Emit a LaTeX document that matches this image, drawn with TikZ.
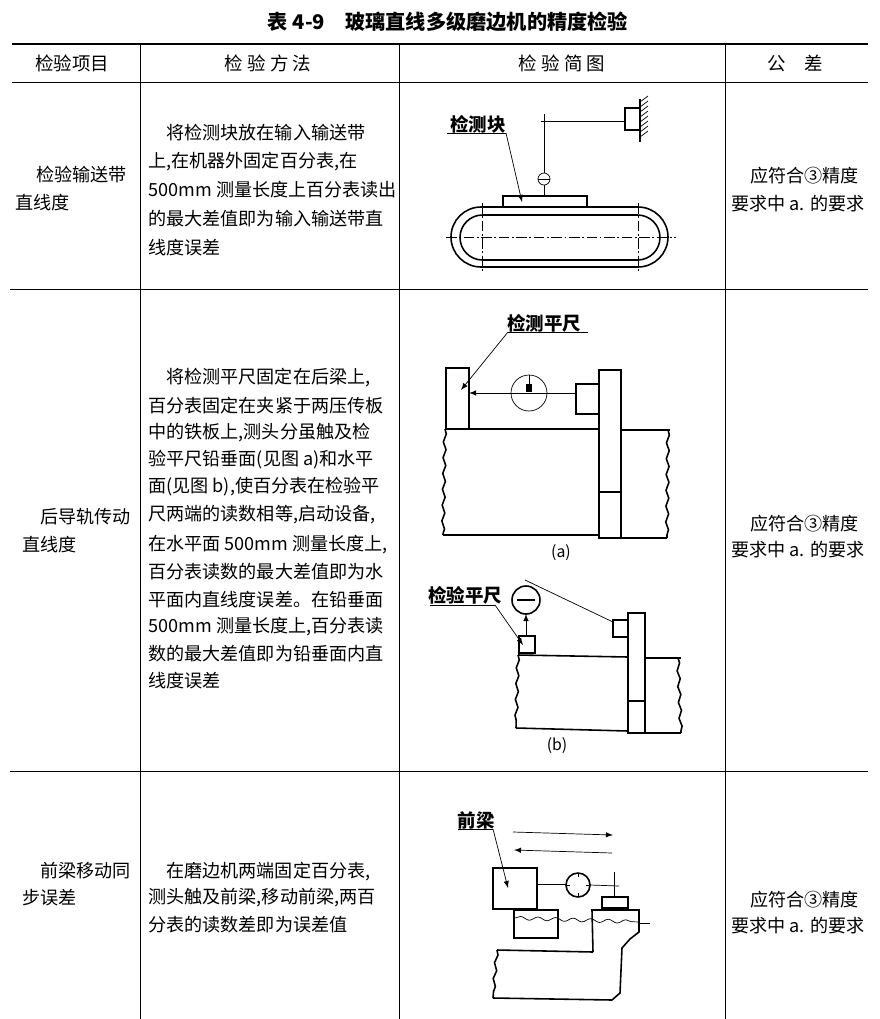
\documentclass[tikz,border=0pt]{standalone}
\usepackage{fontspec}
\setmainfont{Noto Sans CJK SC}
\usetikzlibrary{positioning}
\usetikzlibrary{decorations.pathmorphing}
\tikzset{
  txt/.style={anchor=west, inner sep=0pt, font=\fontsize{10.3pt}{12pt}\selectfont},
  hdr/.style={inner sep=0pt, font=\fontsize{10.5pt}{12pt}\selectfont},
  rule/.style={line width=0.5pt},
  part/.style={line width=0.9pt},
  thinl/.style={line width=0.4pt},
  lead/.style={line width=0.4pt, -latex},
  wavy/.style={line width=0.9pt, decorate, decoration={snake, amplitude=0.8pt, segment length=9pt}},
  cline/.style={line width=0.35pt, dash pattern=on 6pt off 1.5pt on 1pt off 1.5pt}
}
\begin{document}
\begin{tikzpicture}[x=0.02cm, y=-0.02cm]
\useasboundingbox (0,0) rectangle (880,1019);

% table rules
\draw[line width=1pt] (12,44) -- (868,44);
\draw[rule] (12,82) -- (868,82);
\draw[rule] (10,289) -- (868,289);
\draw[rule] (10,771) -- (868,771);
\draw[rule] (140,44) -- (140,1019);
\draw[rule] (399,44) -- (399,1019);
\draw[rule] (725,44) -- (725,1019);

% title and header
\node[hdr, font=\bfseries\fontsize{11.5pt}{13pt}\selectfont] (title) at (448,22) {表 4-9\quad 玻璃直线多级磨边机的精度检验};
\node[hdr] (h1) at (72,63) {检验项目};
\node[hdr] (h2) at (268,63) {检\ 验\ 方\ 法};
\node[hdr] (h3) at (562,63) {检\ 验\ 简\ 图};
\node[hdr] (h4) at (795,63) {公\quad 差};

% row 1
\node[txt] (i1a) at (36,175) {检验输送带};
\node[txt] (i1b) at (15,203) {直线度};
\node[txt] (m1a) at (166,133) {将检测块放在输入输送带};
\node[txt] (m1b) at (148,162) {上,在机器外固定百分表,在};
\node[txt] (m1c) at (148,190) {500mm 测量长度上百分表读出};
\node[txt] (m1d) at (148,219) {的最大差值即为输入输送带直};
\node[txt] (m1e) at (148,248) {线度误差};
\node[txt] (t1a) at (750,176) {应符合③精度};
\node[txt] (t1b) at (731,204) {要求中 a. 的要求};

% row 2
\node[txt] (i2a) at (40,517) {后导轨传动};
\node[txt] (i2b) at (22,545) {直线度};
\node[txt] (m2a) at (166,378) {将检测平尺固定在后梁上,};
\node[txt] (m2b) at (148,406) {百分表固定在夹紧于两压传板};
\node[txt] (m2c) at (148,433) {中的铁板上,测头分虽触及检};
\node[txt] (m2d) at (148,460) {验平尺铅垂面(见图 a)和水平};
\node[txt] (m2e) at (148,487) {面(见图 b),使百分表在检验平};
\node[txt] (m2f) at (148,515) {尺两端的读数相等,启动设备,};
\node[txt] (m2g) at (148,545) {在水平面 500mm 测量长度上,};
\node[txt] (m2h) at (148,572) {百分表读数的最大差值即为水};
\node[txt] (m2i) at (148,600) {平面内直线度误差。在铅垂面};
\node[txt] (m2j) at (148,627) {500mm 测量长度上,百分表读};
\node[txt] (m2k) at (148,654) {数的最大差值即为铅垂面内直};
\node[txt] (m2l) at (148,681) {线度误差};
\node[txt] (t2a) at (750,524) {应符合③精度};
\node[txt] (t2b) at (731,550) {要求中 a. 的要求};

% row 3
\node[txt] (i3a) at (40,871) {前梁移动同};
\node[txt] (i3b) at (22,898) {步误差};
\node[txt] (m3a) at (166,872) {在磨边机两端固定百分表,};
\node[txt] (m3b) at (148,898) {测头触及前梁,移动前梁,两百};
\node[txt] (m3c) at (148,925) {分表的读数差即为误差值};
\node[txt] (t3a) at (750,900) {应符合③精度};
\node[txt] (t3b) at (731,926) {要求中 a. 的要求};

% figure 1: conveyor belt
\draw[part, rounded corners=0.6cm] (451,207) rectangle (668,267);
\draw[part, rounded corners=0.45cm] (460,215) rectangle (660,260);
\draw[cline] (446,237) -- (676,237);
\draw[cline] (482,203) -- (482,272);
\draw[cline] (638,203) -- (638,272);
\draw[part] (503,196) rectangle (587,207);
\draw[thinl] (544,114) -- (544,173);
\draw[thinl] (544,185) -- (544,196);
\draw[thinl] (544,179) circle[radius=6];
\draw[thinl] (538,179) -- (550,179);
\draw[thinl] (541,121) -- (625,121);
\draw[part] (625,108) rectangle (640,130);
\draw[part] (640,99) -- (640,142);
\foreach \k in {0,...,7} {
  \draw[thinl] (640,102+5*\k) -- (648,96+5*\k);
}
\node[hdr, font=\bfseries\fontsize{10.5pt}{12pt}\selectfont] (lbl1) at (478,124) {检测块};
\coordinate (u1) at (447,133);
\coordinate (u1e) at (506,133);
\coordinate (p1) at (522,202);
\draw[thinl] (u1) -- (u1e);
\draw[lead] (u1e) -- (p1);

% figure 2a
\draw[part] (446,368) rectangle (469,429);
\draw[part] (599,370) rectangle (621,538);
\draw[part] (599,492) -- (621,492);
\draw[part] (576,384) rectangle (599,414);
\draw[thinl] (529,393) circle[radius=18];
\draw[thinl] (529,375) -- (529,386);
\fill (526,384) rectangle (532,392);
\draw[thinl, -latex] (576,393) -- (469,393);
\draw[part] (445,429) -- (599,429);
\draw[part] (621,430) -- (670,430);
\draw[wavy] (445,429) -- (443,535);
\draw[part] (443,535) -- (599,535);
\draw[wavy] (668,430) -- (667,538);
\draw[part] (621,538) -- (667,538);
\node[hdr, font=\bfseries\fontsize{10.5pt}{12pt}\selectfont] (lbl2) at (544,323) {检测平尺};
\coordinate (u2) at (588,332);
\coordinate (u2e) at (508,332);
\coordinate (p2) at (461,390);
\draw[thinl] (u2) -- (u2e);
\draw[lead] (u2e) -- (p2);
\node[hdr, font=\fontsize{9pt}{10pt}\selectfont] (fa) at (561,553) {(a)};

% figure 2b
\draw[part] (628,613) rectangle (645,733);
\draw[part] (628,701) -- (645,701);
\draw[part] (613,620) rectangle (628,637);
\draw[thinl] (525,580) -- (613,622);
\draw[part] (526,600) circle[radius=14];
\draw[part] (517,600) -- (535,600);
\draw[part] (519,636) rectangle (535,653);
\draw[thinl, -latex] (526,636) -- (526,614);
\draw[part] (518,655) -- (628,657);
\draw[part] (645,658) -- (681,658);
\draw[wavy] (518,655) -- (516,728);
\draw[part] (516,728) -- (628,731);
\draw[wavy] (678,658) -- (681,733);
\draw[part] (645,733) -- (681,733);
\node[hdr, font=\bfseries\fontsize{10.5pt}{12pt}\selectfont] (lbl3) at (465,595) {检验平尺};
\coordinate (u3) at (430,605);
\coordinate (u3e) at (495,605);
\coordinate (p3) at (523,645);
\draw[thinl] (u3) -- (u3e);
\draw[lead] (u3e) -- (p3);
\node[hdr, font=\fontsize{9pt}{10pt}\selectfont] (fb) at (557,746) {(b)};

% figure 3: front beam
\draw[thinl, -latex] (513,832) -- (613,835);
\draw[thinl, -latex] (612,853) -- (514,850);
\draw[part] (493,868) rectangle (537,909);
\draw[thinl] (537,884) -- (566,884);
\draw[part] (578,885) circle[radius=12];
\foreach \a in {0,90,180,270} {
  \draw[thinl] (578,885) ++(\a:12) -- ++(\a+180:4);
}
\draw[thinl] (590,885) -- (619,886);
\draw[thinl] (614,872) -- (614,897);
\draw[part] (602,897) rectangle (628,908);
\draw[part] (514,910) rectangle (558,938);
\draw[thinl, decorate, decoration={snake, amplitude=1pt, segment length=10pt}] (515,918) -- (640,922);
\draw[thinl] (640,923) -- (650,923);
\draw[part] (593,952) -- (592,910) -- (639,910) -- (639,932) -- (630,939) -- (622,948) -- (620,993) -- (612,1000) -- (493,998);
\draw[part] (497,950) -- (593,952);
\draw[wavy] (497,950) -- (493,998);
\node[hdr, font=\bfseries\fontsize{10.5pt}{12pt}\selectfont] (lbl4) at (476,820) {前梁};
\coordinate (u4) at (458,829);
\coordinate (u4e) at (493,829);
\coordinate (p4) at (508,888);
\draw[thinl] (u4) -- (u4e);
\draw[lead] (u4e) -- (p4);
\end{tikzpicture}
\end{document}
